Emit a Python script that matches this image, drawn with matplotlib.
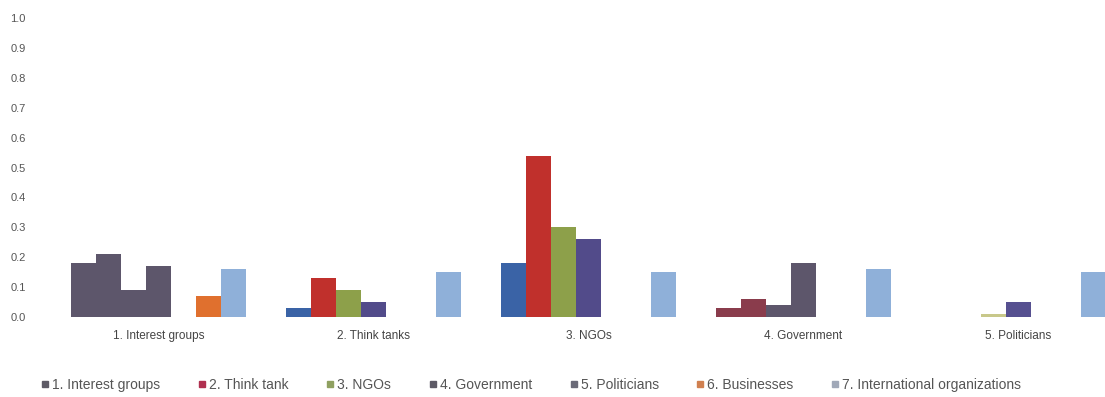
import matplotlib.pyplot as plt
import numpy as np
from matplotlib.lines import Line2D

plt.rcParams['font.family'] = ['Liberation Sans', 'DejaVu Sans']

categories = ['1. Interest groups', '2. Think tanks', '3. NGOs', '4. Government', '5. Politicians']
series_names = ['1. Interest groups', '2. Think tank', '3. NGOs', '4. Government',
                '5. Politicians', '6. Businesses', '7. International organizations']

interest_groups = [0.18, 0.03, 0.18, 0.03, 0.00]
think_tank = [0.21, 0.13, 0.54, 0.06, 0.00]
ngos = [0.09, 0.09, 0.30, 0.04, 0.01]
government = [0.17, 0.05, 0.26, 0.18, 0.05]
politicians = [0.00, 0.00, 0.00, 0.00, 0.00]
businesses = [0.07, 0.00, 0.00, 0.00, 0.00]
intl_orgs = [0.16, 0.15, 0.15, 0.16, 0.15]

values = [interest_groups, think_tank, ngos, government, politicians, businesses, intl_orgs]

bar_colors = ['#3a63a6', '#c0302c', '#8da04a', '#524b8a', '#8fb0d9', '#e0702e', '#8fb0d9']
# some bars print in muddier tones
odd_colors = {(0, 0): '#5d566b', (1, 0): '#5d566b', (2, 0): '#5d566b', (3, 0): '#5d566b',
              (0, 3): '#8a3c4c', (1, 3): '#8a3c4c', (2, 3): '#5d566b', (3, 3): '#5d566b',
              (2, 4): '#c8c88a', (3, 4): '#565090'}
legend_colors = ['#5d5a66', '#b03050', '#8fa060', '#5d5a66', '#6a6a78', '#d08050', '#a0a8b8']

fig = plt.figure(figsize=(11.05, 3.97), dpi=100)
ax = fig.add_axes([0.046, 0.201, 0.973, 0.754])

x = np.arange(len(categories))
w = 0.1163
for s, vals in enumerate(values):
    cols = [odd_colors.get((s, g), bar_colors[s]) for g in range(len(categories))]
    ax.bar(x + (s - 3) * w, vals, width=w, color=cols, linewidth=0)

ax.set_xlim(-0.5, 4.5)
ax.set_ylim(0, 1.0)
ax.set_yticks(np.arange(0, 1.01, 0.1))
ax.set_yticklabels(['%.1f' % v for v in np.arange(0, 1.01, 0.1)])
ax.set_xticks(x)
ax.set_xticklabels(categories)
ax.tick_params(axis='y', length=0, pad=18, labelsize=8, labelcolor='#555555')
ax.tick_params(axis='x', length=0, pad=9, labelsize=8.5, labelcolor='#444444')
for sp in ax.spines.values():
    sp.set_visible(False)

handles = [Line2D([], [], marker='s', linestyle='', markersize=5, color=c) for c in legend_colors]
fig.legend(handles, series_names, loc='center', bbox_to_anchor=(0.48, 0.03), ncol=7,
           frameon=False, fontsize=10, labelcolor='#555555', handletextpad=0.1,
           columnspacing=2.6, handlelength=0.8)

fig.savefig('out.png', dpi=100)
